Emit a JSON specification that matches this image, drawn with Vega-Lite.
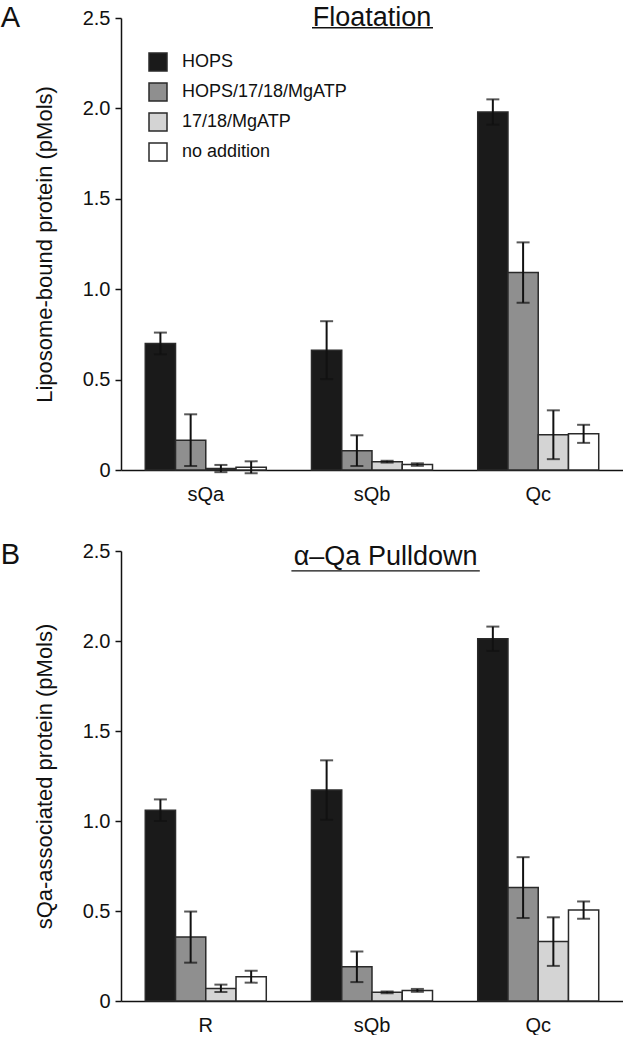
{
  "$schema": "https://vega.github.io/schema/vega-lite/v6.json",
  "background": "white",
  "padding": {"left": 0, "top": 4, "right": 0, "bottom": 0},
  "config": {
    "font": "Liberation Sans",
    "view": {"stroke": null},
    "axis": {"labelFont": "Liberation Sans", "titleFont": "Liberation Sans", "labelColor": "#111", "titleColor": "#111", "domainColor": "#111", "tickColor": "#111", "grid": false, "titleFontWeight": "normal"},
    "title": {"font": "Liberation Sans", "fontWeight": "normal", "color": "#111"},
    "legend": {"labelFont": "Liberation Sans"}
  },
  "resolve": {"scale": {"color": "independent"}, "legend": {"color": "independent"}},
  "spacing": 37,
  "datasets": {
    "floatation": [
      {"protein": "sQa", "condition": "HOPS", "value": 0.70, "lo": 0.64, "hi": 0.76},
      {"protein": "sQa", "condition": "HOPS/17/18/MgATP", "value": 0.165, "lo": 0.022, "hi": 0.308},
      {"protein": "sQa", "condition": "17/18/MgATP", "value": 0.008, "lo": -0.012, "hi": 0.028},
      {"protein": "sQa", "condition": "no addition", "value": 0.015, "lo": -0.018, "hi": 0.048},
      {"protein": "sQb", "condition": "HOPS", "value": 0.663, "lo": 0.503, "hi": 0.823},
      {"protein": "sQb", "condition": "HOPS/17/18/MgATP", "value": 0.107, "lo": 0.022, "hi": 0.192},
      {"protein": "sQb", "condition": "17/18/MgATP", "value": 0.046, "lo": 0.041, "hi": 0.051},
      {"protein": "sQb", "condition": "no addition", "value": 0.03, "lo": 0.023, "hi": 0.037},
      {"protein": "Qc", "condition": "HOPS", "value": 1.98, "lo": 1.91, "hi": 2.05},
      {"protein": "Qc", "condition": "HOPS/17/18/MgATP", "value": 1.092, "lo": 0.925, "hi": 1.259},
      {"protein": "Qc", "condition": "17/18/MgATP", "value": 0.195, "lo": 0.06, "hi": 0.33},
      {"protein": "Qc", "condition": "no addition", "value": 0.2, "lo": 0.15, "hi": 0.25}
    ],
    "pulldown": [
      {"protein": "R", "condition": "HOPS", "value": 1.06, "lo": 1.0, "hi": 1.12},
      {"protein": "R", "condition": "HOPS/17/18/MgATP", "value": 0.355, "lo": 0.213, "hi": 0.497},
      {"protein": "R", "condition": "17/18/MgATP", "value": 0.07, "lo": 0.05, "hi": 0.091},
      {"protein": "R", "condition": "no addition", "value": 0.135, "lo": 0.102, "hi": 0.168},
      {"protein": "sQb", "condition": "HOPS", "value": 1.172, "lo": 1.007, "hi": 1.337},
      {"protein": "sQb", "condition": "HOPS/17/18/MgATP", "value": 0.19, "lo": 0.105, "hi": 0.275},
      {"protein": "sQb", "condition": "17/18/MgATP", "value": 0.048, "lo": 0.043, "hi": 0.053},
      {"protein": "sQb", "condition": "no addition", "value": 0.059, "lo": 0.051, "hi": 0.067},
      {"protein": "Qc", "condition": "HOPS", "value": 2.013, "lo": 1.945, "hi": 2.08},
      {"protein": "Qc", "condition": "HOPS/17/18/MgATP", "value": 0.63, "lo": 0.461, "hi": 0.799},
      {"protein": "Qc", "condition": "17/18/MgATP", "value": 0.33, "lo": 0.195, "hi": 0.465},
      {"protein": "Qc", "condition": "no addition", "value": 0.505, "lo": 0.457, "hi": 0.553}
    ]
  },
  "vconcat": [
    {
      "width": 502,
      "height": 452,
      "data": {"name": "floatation"},
      "title": {"text": "A", "orient": "left", "anchor": "end", "angle": 0, "fontSize": 29, "align": "left", "baseline": "top", "offset": 13},
      "encoding": {
        "x": {"field": "protein", "type": "nominal", "sort": ["sQa", "sQb", "Qc"],
              "scale": {"paddingInner": 0.272, "paddingOuter": 0.146},
              "axis": {"title": null, "ticks": false, "labelAngle": 0, "labelFontSize": 20, "labelPadding": 14, "domainWidth": 1.5}},
        "y": {"type": "quantitative", "scale": {"domain": [0, 2.5], "nice": false, "zero": true},
              "axis": {"values": [0, 0.5, 1, 1.5, 2, 2.5], "labelExpr": "datum.value == 0 ? '0' : format(datum.value, '.1f')", "labelFontSize": 20, "tickSize": 6, "tickWidth": 1.5, "domainWidth": 1.5, "labelPadding": 5, "title": "Liposome-bound protein (pMols)", "titleFontSize": 22, "titlePadding": 26}}
      },
      "layer": [
        {
          "mark": {"type": "bar", "stroke": "#2a2a2a", "strokeWidth": 1.5},
          "encoding": {
            "xOffset": {"field": "condition", "type": "nominal", "sort": ["HOPS", "HOPS/17/18/MgATP", "17/18/MgATP", "no addition"], "scale": {"paddingInner": 0, "paddingOuter": 0}},
            "y": {"field": "value", "type": "quantitative"},
            "color": {"field": "condition", "type": "nominal", "sort": ["HOPS", "HOPS/17/18/MgATP", "17/18/MgATP", "no addition"],
                      "scale": {"domain": ["HOPS", "HOPS/17/18/MgATP", "17/18/MgATP", "no addition"], "range": ["#1a1a1a", "#8f8f8f", "#d4d4d4", "#ffffff"]},
                      "legend": {"title": null, "orient": "none", "legendX": 27, "legendY": 34, "symbolType": "square", "symbolSize": 324, "symbolStrokeColor": "#2a2a2a", "symbolStrokeWidth": 1.5, "symbolOpacity": 1, "labelFontSize": 18, "labelColor": "#111", "labelLimit": 400, "rowPadding": 6, "labelOffset": 14, "padding": 0}}
          }
        },
        {
          "mark": {"type": "rule", "color": "#111", "strokeWidth": 2},
          "encoding": {
            "xOffset": {"field": "condition", "type": "nominal", "sort": ["HOPS", "HOPS/17/18/MgATP", "17/18/MgATP", "no addition"]},
            "y": {"field": "lo", "type": "quantitative"}, "y2": {"field": "hi"}}
        },
        {
          "mark": {"type": "tick", "color": "#111", "thickness": 2, "size": 13},
          "encoding": {
            "xOffset": {"field": "condition", "type": "nominal", "sort": ["HOPS", "HOPS/17/18/MgATP", "17/18/MgATP", "no addition"]},
            "y": {"field": "hi", "type": "quantitative"}}
        },
        {
          "mark": {"type": "tick", "color": "#111", "thickness": 2, "size": 13},
          "encoding": {
            "xOffset": {"field": "condition", "type": "nominal", "sort": ["HOPS", "HOPS/17/18/MgATP", "17/18/MgATP", "no addition"]},
            "y": {"field": "lo", "type": "quantitative"}}
        },
        {
          "data": {"values": [{"label": "Floatation"}]},
          "mark": {"type": "text", "fontSize": 27, "baseline": "alphabetic", "align": "center", "color": "#111", "dx": 0},
          "encoding": {"x": {"datum": "sQb"}, "y": {"datum": 2.453}, "text": {"field": "label"}}
        },
        {
          "data": {"values": [{"label": "Floatation"}]},
          "mark": {"type": "rule", "color": "#111", "strokeWidth": 1.3, "xOffset": -60, "x2Offset": 61},
          "encoding": {"x": {"datum": "sQb"}, "x2": {"datum": "sQb"}, "y": {"datum": 2.446}}
        }
      ]
    },
    {
      "width": 502,
      "height": 450,
      "data": {"name": "pulldown"},
      "title": {"text": "B", "orient": "left", "anchor": "end", "angle": 0, "fontSize": 29, "align": "left", "baseline": "top", "offset": 13},
      "encoding": {
        "x": {"field": "protein", "type": "nominal", "sort": ["R", "sQb", "Qc"],
              "scale": {"paddingInner": 0.272, "paddingOuter": 0.146},
              "axis": {"title": null, "ticks": false, "labelAngle": 0, "labelFontSize": 20, "labelPadding": 14, "domainWidth": 1.5}},
        "y": {"type": "quantitative", "scale": {"domain": [0, 2.5], "nice": false, "zero": true},
              "axis": {"values": [0, 0.5, 1, 1.5, 2, 2.5], "labelExpr": "datum.value == 0 ? '0' : format(datum.value, '.1f')", "labelFontSize": 20, "tickSize": 6, "tickWidth": 1.5, "domainWidth": 1.5, "labelPadding": 5, "title": "sQa-associated protein (pMols)", "titleFontSize": 22, "titlePadding": 26}}
      },
      "layer": [
        {
          "mark": {"type": "bar", "stroke": "#2a2a2a", "strokeWidth": 1.5},
          "encoding": {
            "xOffset": {"field": "condition", "type": "nominal", "sort": ["HOPS", "HOPS/17/18/MgATP", "17/18/MgATP", "no addition"], "scale": {"paddingInner": 0, "paddingOuter": 0}},
            "y": {"field": "value", "type": "quantitative"},
            "color": {"field": "condition", "type": "nominal", "sort": ["HOPS", "HOPS/17/18/MgATP", "17/18/MgATP", "no addition"],
                      "scale": {"domain": ["HOPS", "HOPS/17/18/MgATP", "17/18/MgATP", "no addition"], "range": ["#1a1a1a", "#8f8f8f", "#d4d4d4", "#ffffff"]},
                      "legend": null}
          }
        },
        {
          "mark": {"type": "rule", "color": "#111", "strokeWidth": 2},
          "encoding": {
            "xOffset": {"field": "condition", "type": "nominal", "sort": ["HOPS", "HOPS/17/18/MgATP", "17/18/MgATP", "no addition"]},
            "y": {"field": "lo", "type": "quantitative"}, "y2": {"field": "hi"}}
        },
        {
          "mark": {"type": "tick", "color": "#111", "thickness": 2, "size": 13},
          "encoding": {
            "xOffset": {"field": "condition", "type": "nominal", "sort": ["HOPS", "HOPS/17/18/MgATP", "17/18/MgATP", "no addition"]},
            "y": {"field": "hi", "type": "quantitative"}}
        },
        {
          "mark": {"type": "tick", "color": "#111", "thickness": 2, "size": 13},
          "encoding": {
            "xOffset": {"field": "condition", "type": "nominal", "sort": ["HOPS", "HOPS/17/18/MgATP", "17/18/MgATP", "no addition"]},
            "y": {"field": "lo", "type": "quantitative"}}
        },
        {
          "data": {"values": [{"label": "α–Qa Pulldown"}]},
          "mark": {"type": "text", "fontSize": 27, "baseline": "alphabetic", "align": "center", "color": "#111", "dx": 13.6},
          "encoding": {"x": {"datum": "sQb"}, "y": {"datum": 2.42}, "text": {"field": "label"}}
        },
        {
          "data": {"values": [{"label": "α–Qa Pulldown"}]},
          "mark": {"type": "rule", "color": "#111", "strokeWidth": 1.3, "xOffset": -80.6, "x2Offset": 107.8},
          "encoding": {"x": {"datum": "sQb"}, "x2": {"datum": "sQb"}, "y": {"datum": 2.39}}
        }
      ]
    }
  ]
}
